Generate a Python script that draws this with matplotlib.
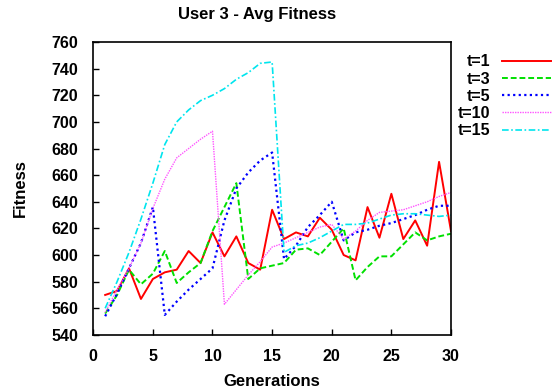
import matplotlib
matplotlib.use('Agg')
import matplotlib.pyplot as plt

plt.rcParams['font.family'] = ['Liberation Sans', 'DejaVu Sans']
plt.rcParams['font.weight'] = 'bold'

# Data
gens = list(range(1, 31))
t1 = [570, 573, 590, 567, 582, 587, 589, 603, 594, 617, 599, 614, 594, 589, 634,
      612, 617, 614, 628, 619, 600, 596, 636, 613, 646, 612, 626, 607, 670, 618]
t3 = [556, 570, 589, 578, 586, 603, 579, 587, 594, 618, 636, 654, 582, 590, 592,
      594, 604, 605, 600, 610, 620, 581, 591, 599, 599, 608, 617, 611, 614, 616]
t5 = [554, 571, 590, 609, 636, 555, 565, 574, 582, 590, 626, 650, 662, 671, 677,
      597, 607, 621, 630, 640, 611, 617, 619, 622, 624, 627, 630, 634, 637, 637]
t10 = [557, 574, 590, 609, 635, 657, 673, 680, 687, 693, 563, 574, 585, 595, 606,
       609, 613, 617, 621, 623, 612, 618, 626, 632, 633, 634, 637, 640, 644, 647]
t15 = [560, 580, 602, 627, 654, 683, 700, 709, 716, 720, 725, 732, 737, 744, 745,
       602, 607, 609, 613, 618, 623, 623, 624, 627, 630, 631, 631, 630, 629, 630]

labels = ['t=1', 't=3', 't=5', 't=10', 't=15']
xticks = [0, 5, 10, 15, 20, 25, 30]
yticks = list(range(540, 761, 20))

fig = plt.figure(figsize=(5.55, 3.91), dpi=100)
ax = fig.add_axes([0.168, 0.1435, 0.6446, 0.749])

ax.plot(gens, t1, color='#ff0000', lw=1.4, label=labels[0])
ax.plot(gens, t3, color='#00e000', lw=1.4, dashes=(3, 1.5), label=labels[1])
ax.plot(gens, t5, color='#0000ff', lw=1.6, dashes=(1, 1.5), label=labels[2])
ax.plot(gens, t10, color='#ff55ff', lw=1.0, dashes=(1, 0.8), label=labels[3])
ax.plot(gens, t15, color='#00e5ee', lw=1.2, dashes=(4, 1.5, 1, 1.5), label=labels[4])

ax.set_xlim(0, 30)
ax.set_ylim(540, 760)
ax.set_xticks(xticks)
ax.set_yticks(yticks)
ax.tick_params(direction='in', length=4, width=1, labelsize=11.5)
ax.tick_params(axis='x', pad=10)
ax.tick_params(axis='y', pad=11)
for lab in ax.get_xticklabels() + ax.get_yticklabels():
    lab.set_fontweight('bold')
for sp in ax.spines.values():
    sp.set_linewidth(1.2)

fig.text(0.463, 0.962, 'User 3 - Avg Fitness', ha='center', va='center',
         fontsize=12, fontweight='bold')
ax.set_xlabel('Generations', fontsize=12, fontweight='bold', labelpad=7)
ax.set_ylabel('Fitness', fontsize=12, fontweight='bold', labelpad=17)

leg = ax.legend(loc='upper left', bbox_to_anchor=(1.0, 0.98), frameon=False,
                markerfirst=False, handlelength=3.1,
                handletextpad=0.75, labelspacing=0.14, borderaxespad=0,
                prop={'weight': 'bold', 'size': 11.5})

fig.savefig('out.png', dpi=100)
